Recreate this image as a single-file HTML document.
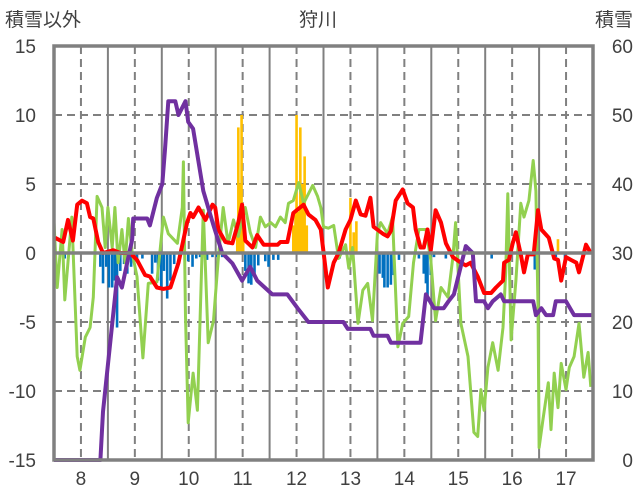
<!DOCTYPE html>
<html><head><meta charset="utf-8">
<style>
html,body{margin:0;padding:0;background:#fff;}
svg{display:block;}
text{font-family:"Liberation Sans","Noto Sans CJK JP",sans-serif;fill:#404040;}
</style></head>
<body>
<svg id="chart" width="636" height="501" viewBox="0 0 636 501">
<text x="5" y="26" font-size="19">積雪以外</text>
<text x="318" y="26" font-size="19" text-anchor="middle">狩川</text>
<text x="633" y="26" font-size="19" text-anchor="end">積雪</text>
<g id="grid"></g>
<g id="bars"></g>
<g id="lines"></g>
<g id="axes"></g>
</svg>
<script>
const xTickLabels=["8","9","10","11","12","13","14","15","16","17"];
const xTickPos=[5,15,25,35,45,55,65,75,85,95];
const leftTicks=[15,10,5,0,-5,-10,-15];
const rightTicks=[60,50,40,30,20,10,0];

const purpleX=[0,8.6,9.1,11.7,12.6,14.5,14.7,17.3,17.8,19.1,20.1,20.6,21.2,22.5,23.1,24.4,24.9,25.8,27.7,29.6,31.2,33.1,34.9,36.4,37.7,40.5,43.3,45.2,47.2,53.7,54.5,58.7,59.3,61.9,62.5,68.0,69.0,70.5,72.3,73.2,74.2,76.4,77.7,78.3,79.8,80.5,81.4,82.9,83.5,88.9,89.4,90.4,91.3,92.6,93.1,94.1,95.0,96.5,100];
const purpleY=[0,0,7,26.5,25,32,35,35,34,38,40,45,52,52,50,52,49,48,39,34,30,28.5,26,28,26,24,24,22,20,20,19,19,18,18,17,17,24,22,22,23,24,31,30,23,23,22,23,24,23,23,21,22,21,21,23,23,23,21,21];

const redX=[0.2,1.7,2.6,3.5,4.3,5.2,6.1,6.7,7.3,8.2,9.1,11.0,12.3,14.1,15.4,16.9,17.8,19.1,20.3,21.6,23.1,24.7,25.3,25.8,26.8,28.1,29.4,29.9,30.5,31.8,33.1,34.2,34.9,35.5,36.8,37.7,38.9,41.5,42.0,43.3,44.4,46.3,47.2,48.5,49.5,50.8,51.9,52.8,54.1,55.0,56.0,56.9,57.8,58.7,59.3,61.0,61.9,62.5,63.4,64.7,65.6,66.6,67.1,68.0,68.6,69.3,69.9,70.8,71.8,72.7,74.0,75.5,76.4,77.3,78.6,79.8,81.1,82.0,83.3,83.5,84.4,85.1,85.7,86.6,87.2,87.9,89.0,89.8,90.4,91.8,92.8,93.5,94.1,95.0,95.9,96.9,97.4,98.7,99.6];
const redY=[1.1,0.8,2.4,0.9,3.5,3.8,3.6,2.6,2.5,0.8,0,0.2,0,0,-0.5,-1.6,-1.7,-2.5,-2.6,-2.5,-0.7,2.2,2.9,2.6,3.3,2.4,3.5,3.3,1.7,0.8,0.7,2.2,3.5,0.9,0.4,1.3,0.6,0.6,0.8,0.8,2.9,3.5,2.8,2.4,1.7,-2.5,-0.7,0,1.7,2.4,3.8,2.8,2.7,4.0,1.9,1.4,1.2,1.6,3.8,4.6,3.6,3.3,1.7,0.4,0.4,1.7,0.2,3.1,2.2,0.7,-0.3,-0.7,-0.9,-0.7,-1.7,-2.9,-2.9,-2.5,-2.0,-0.7,-0.5,0.7,1.5,-0.1,-1.4,-0.1,-0.1,3.1,1.7,1.1,-0.4,-0.5,-2.0,-0.3,-0.5,-0.7,-1.4,0.6,0];

const greenX=[0,0.6,1.5,2.0,3.3,4.3,4.8,5.8,6.7,7.3,8.0,8.9,9.5,10.0,10.8,11.3,11.9,12.6,13.2,13.8,14.5,15.4,16.5,17.5,19.1,20.3,21.2,22.9,23.8,24.0,24.4,24.9,25.8,26.6,27.7,28.6,29.6,30.5,31.4,32.3,33.3,34.2,35.5,36.4,37.4,38.3,39.2,40.2,41.1,42.0,42.9,43.5,44.4,45.4,46.3,48.0,48.9,49.5,50.0,50.9,51.9,52.8,54.1,54.7,55.4,56.4,57.3,58.2,59.1,60.0,60.6,61.9,62.8,63.8,64.7,65.8,66.7,67.7,69.0,69.9,70.8,71.8,73.1,74.0,74.5,75.5,76.8,77.9,78.6,79.2,79.8,80.5,81.4,82.4,83.3,83.8,84.2,84.8,85.7,86.6,87.2,88.1,88.9,89.4,89.8,90.0,90.7,91.7,92.2,92.8,93.5,94.1,95.0,95.6,96.5,97.4,98.3,99.1,99.6];
const greenY=[2.2,-2.5,1.7,-3.4,2.6,-7.5,-8.5,-6.1,-5.4,-3.2,4.1,3.3,0.4,3.3,0.4,3.3,-0.7,1.7,-0.7,2.5,0,-1.7,-7.6,-2.2,-2.1,2.6,1.4,0.7,3.3,6.6,-4.6,-12.3,-8.7,-11.4,3.1,-6.5,-4.9,-0.3,3.3,0.7,2.4,1.2,3.3,1.5,0.4,2.6,1.9,2.2,1.9,2.6,2.2,3.6,3.8,5.1,3.6,4.9,4.1,3.3,1.9,1.8,2.0,-0.4,0.6,-1.1,0.4,-5.1,-2.7,-2.2,-4.9,1.4,2.2,1.4,2.6,-6.8,-5.1,-4.6,-0.7,1.7,1.7,-0.5,-4.9,-2.5,-3.2,-0.3,2.2,-5.1,-7.5,-13.0,-13.3,-9.9,-11.4,-8.3,-6.5,-8.5,-5.4,-1.4,4.3,-6.3,-2.0,3.6,2.6,3.8,6.7,4.5,-3.9,-14.1,-12.1,-9.4,-12.8,-8.7,-11.2,-8.0,-9.9,-8.3,-7.5,-5.1,-9.0,-7.2,-9.7];

const blueX=[2.0,8.6,9.1,9.7,10.2,10.8,11.3,11.7,12.3,13.0,13.6,14.3,15.4,16.4,18.2,18.8,19.3,19.9,20.4,21.0,21.6,22.3,24.9,25.7,26.4,27.1,28.4,29.4,30.3,31.2,35.5,36.1,36.6,37.2,37.9,39.2,39.8,40.7,41.6,53.0,60.4,61.0,61.3,61.9,62.5,63.0,64.0,67.7,68.6,69.0,69.3,69.9,70.5,72.7,81.2,89.2,93.1,94.8];
const blueY=[-0.4,-1.0,-2.2,-1.0,-2.5,-2.5,-2.0,-5.4,-1.3,-0.8,-1.5,-1.0,-0.5,-0.4,-1.5,-0.7,-2.0,-2.5,-1.3,-3.3,-2.0,-0.8,-0.6,-1.0,-0.4,-0.3,-0.5,-0.3,-0.3,-0.3,-1.3,-2.2,-2.3,-1.5,-0.9,-0.6,-1.0,-0.5,-0.5,-0.4,-1.5,-1.8,-2.5,-2.5,-2.3,-1.6,-0.5,-0.4,-1.5,-2.2,-3.5,-1.6,-0.3,-0.4,-0.4,-1.2,-0.3,-0.4];

const orangeX=[34.0,34.2,34.6,34.8,35.1,44.4,44.8,45.0,45.4,45.7,46.1,46.5,46.9,55.0,55.6,56.1,93.5];
const orangeY=[2.2,9.1,5.0,10,2.0,2.0,3.0,10,3.0,9.1,5.0,7.0,2.0,4.0,1.5,2.3,1.0];

const L=54,R=593,T=46,B=460;
const xs=d=>L+(R-L)*d/100;
const yl=v=>T+(B-T)*(15-v)/30;
const yr=v=>T+(B-T)*(60-v)/60;
const NS="http://www.w3.org/2000/svg";
function mk(tag,attrs,parent){const e=document.createElementNS(NS,tag);for(const k in attrs)e.setAttribute(k,attrs[k]);parent.appendChild(e);return e;}
const grid=document.getElementById('grid'),bars=document.getElementById('bars'),lines=document.getElementById('lines'),axes=document.getElementById('axes');

// horizontal gridlines
leftTicks.forEach(v=>{
  if(v===15||v===-15||v===0)return;
  const g=mk('line',{x1:L,x2:R,y1:yl(v),y2:yl(v),stroke:'#808080','stroke-width':2,'stroke-dasharray':'8,5'},grid);
  
  
});
// vertical gridlines
xTickPos.forEach(d=>{
  const g=mk('line',{x1:xs(d),x2:xs(d),y1:T,y2:B,stroke:'#808080','stroke-width':2,'stroke-dasharray':'8,5'},grid);
  
  
});
for(let d=10;d<100;d+=10){
  const g=mk('line',{x1:xs(d),x2:xs(d),y1:T,y2:B,stroke:'#808080','stroke-width':2},grid);
  
  
}
// bars
const bw=2.6;
blueX.forEach((d,i)=>{
  const y0=yl(0),y1=yl(blueY[i]);
  const b=mk('rect',{x:xs(d)-bw/2,y:Math.min(y0,y1),width:bw,height:Math.abs(y1-y0),fill:'#0070c0'},bars);
  
  
});
orangeX.forEach((d,i)=>{
  const y0=yl(0),y1=yl(orangeY[i]);
  const b=mk('rect',{x:xs(d)-bw/2,y:Math.min(y0,y1),width:bw,height:Math.abs(y1-y0),fill:'#ffc000'},bars);
  
  
});
// zero line
const z=mk('line',{x1:L,x2:R,y1:yl(0),y2:yl(0),stroke:'#808080','stroke-width':3.5},axes);


// lines
function pl(X,Y,f,color,w,name){
  const pts=X.map((d,i)=>xs(d).toFixed(1)+','+f(Y[i]).toFixed(1)).join(' ');
  const p=mk('polyline',{points:pts,fill:'none',stroke:color,'stroke-width':w,'stroke-linejoin':'round'},lines);
  
  
}
pl(greenX,greenY,yl,'#92d050',3,'green-series-line');
pl(redX,redY,yl,'#ff0000',4,'red-series-line');
pl(purpleX,purpleY,yr,'#7030a0',4,'purple-snow-depth-line');
// border
const bd=mk('rect',{x:L,y:T,width:R-L,height:B-T,fill:'none',stroke:'#808080','stroke-width':3.5},axes);


// tick labels
leftTicks.forEach(v=>{
  const t=mk('text',{x:36,y:yl(v)+7,'font-size':19,'text-anchor':'end'},axes);
  t.textContent=String(v);
  
  
});
rightTicks.forEach(v=>{
  const t=mk('text',{x:633,y:yr(v)+7,'font-size':19,'text-anchor':'end'},axes);
  t.textContent=String(v);
  
  
});
xTickLabels.forEach((s,i)=>{
  const t=mk('text',{x:xs(xTickPos[i]),y:485,'font-size':19,'text-anchor':'middle'},axes);
  t.textContent=s;
  
  
});
</script>
</body></html>
